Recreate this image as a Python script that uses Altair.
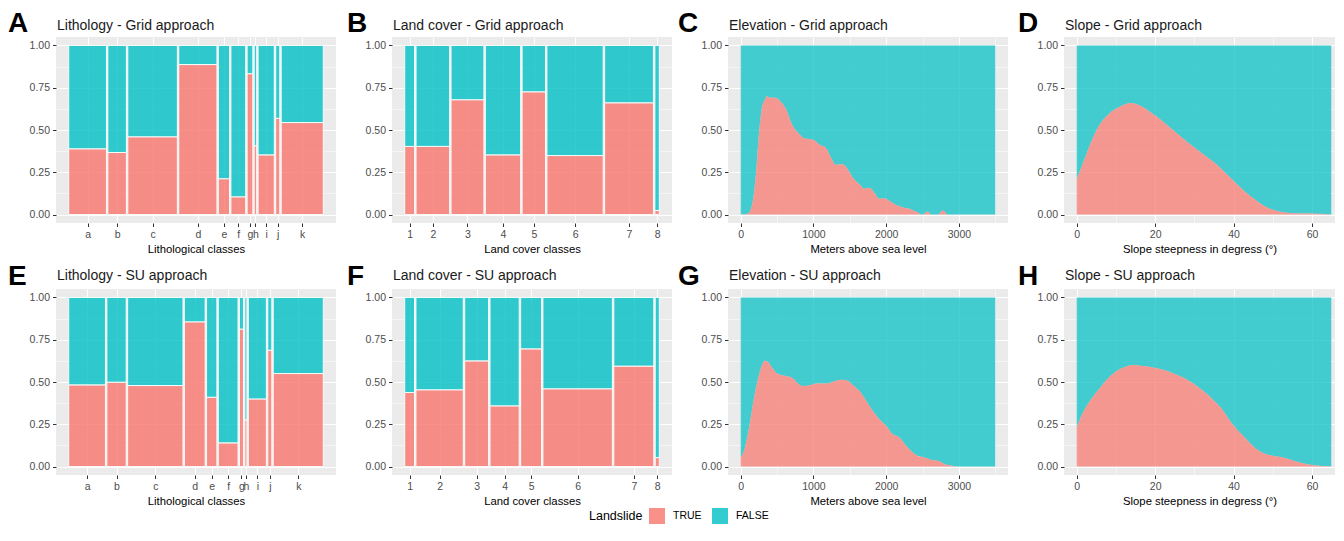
import altair as alt
import numpy as np
import pandas as pd

FONT = "Liberation Sans"
PINK = "#F8766D"
TEAL = "#00BFC4"

# ---------------- data ----------------
litho_classes = ["a", "b", "c", "d", "e", "f", "g", "h", "i", "j", "k"]
litho_grid_share = [37.3, 18.3, 49.0, 37.7, 11.0, 14.6, 5.6, 2.4, 16.0, 4.0, 41.6]
litho_grid_true = [0.389, 0.367, 0.460, 0.887, 0.212, 0.105, 0.833, 0.407, 0.353, 0.569, 0.544]
litho_su_share = [36.7, 19.3, 55.3, 20.7, 10.3, 19.7, 4.0, 2.0, 18.0, 4.0, 50.0]
litho_su_true = [0.483, 0.499, 0.479, 0.856, 0.410, 0.140, 0.813, 0.276, 0.400, 0.688, 0.550]

lc_classes = ["1", "2", "3", "4", "5", "6", "7", "8"]
lc_grid_share = [9.7, 33.0, 32.3, 34.7, 23.0, 55.3, 48.0, 4.3]
lc_grid_true = [0.403, 0.403, 0.679, 0.353, 0.726, 0.349, 0.661, 0.024]
lc_su_share = [9.7, 47.0, 23.7, 29.0, 20.7, 69.0, 39.7, 4.0]
lc_su_true = [0.438, 0.454, 0.625, 0.359, 0.696, 0.460, 0.594, 0.053]

elev_grid_x = [0, 92, 138, 170, 207, 253, 299, 335, 354, 413, 482, 528, 620, 712, 804, 873, 942,
               1011, 1079, 1171, 1240, 1309, 1401, 1470, 1539, 1631, 1700, 1768, 1837, 1906, 1975,
               2044, 2136, 2228, 2320, 2412, 2503, 2572, 2618, 2710, 2779, 2848, 3500]
elev_grid_p = [0, 0.004, 0.03, 0.09, 0.23, 0.49, 0.646, 0.68, 0.70, 0.69, 0.69, 0.676, 0.626,
               0.527, 0.477, 0.451, 0.447, 0.439, 0.414, 0.394, 0.338, 0.294, 0.298, 0.268, 0.219,
               0.179, 0.153, 0.159, 0.129, 0.093, 0.097, 0.080, 0.056, 0.042, 0.034, 0.016, 0,
               0.018, 0, 0, 0.024, 0, 0]

elev_su_x = [0, 46, 115, 184, 253, 299, 335, 367, 413, 482, 551, 620, 712, 781, 850, 942, 1034,
             1126, 1217, 1309, 1401, 1470, 1539, 1631, 1723, 1815, 1906, 1998, 2090, 2182, 2274,
             2366, 2435, 2503, 2572, 2641, 2710, 2802, 2894, 2986, 3500]
elev_su_p = [0.053, 0.093, 0.231, 0.408, 0.546, 0.606, 0.625, 0.621, 0.596, 0.556, 0.542, 0.536,
             0.523, 0.493, 0.477, 0.479, 0.491, 0.491, 0.493, 0.507, 0.513, 0.507, 0.483, 0.448,
             0.389, 0.329, 0.280, 0.241, 0.191, 0.172, 0.122, 0.083, 0.063, 0.057, 0.047, 0.037,
             0.034, 0.014, 0.006, 0.0, 0.0]

slope_grid_x = [0, 1.0, 2.3, 4.0, 5.7, 7.4, 9.1, 10.9, 12.6, 13.8, 15.1, 16.8, 18.5, 21.1, 23.7,
                26.2, 28.8, 31.4, 33.9, 36.5, 39.1, 41.6, 44.2, 46.8, 49.3, 51.9, 55.3, 59.6,
                62.1, 64.9]
slope_grid_p = [0.209, 0.268, 0.348, 0.447, 0.527, 0.577, 0.612, 0.636, 0.654, 0.660, 0.654,
                0.636, 0.610, 0.567, 0.517, 0.467, 0.417, 0.372, 0.328, 0.278, 0.219, 0.163,
                0.109, 0.066, 0.034, 0.016, 0.008, 0.006, 0.004, 0.0]

slope_su_x = [0, 1.0, 2.3, 4.0, 5.7, 7.4, 9.1, 10.9, 12.6, 14.7, 16.8, 19.4, 22.0, 24.5, 27.1,
              29.7, 32.2, 34.8, 37.4, 39.1, 40.8, 42.5, 44.2, 45.9, 47.6, 50.2, 52.7, 55.3,
              57.9, 60.4, 64.9]
slope_su_p = [0.231, 0.290, 0.349, 0.408, 0.458, 0.507, 0.546, 0.576, 0.592, 0.600, 0.594,
              0.586, 0.572, 0.552, 0.527, 0.491, 0.448, 0.394, 0.329, 0.270, 0.221, 0.181,
              0.138, 0.103, 0.079, 0.063, 0.053, 0.034, 0.018, 0.008, 0.002]

y_ticks = [0, 0.125, 0.25, 0.375, 0.5, 0.625, 0.75, 0.875, 1.0]
elev_ticks = [0, 500, 1000, 1500, 2000, 2500, 3000, 3500]
slope_ticks = [0, 10, 20, 30, 40, 50, 60]

# ---------------- styling ----------------
W, H = 280, 186
W_LAST = 271   # right-most column is cut at the page edge
color_enc = alt.Color(
    "Landslide:N",
    scale=alt.Scale(domain=["TRUE", "FALSE"], range=[PINK, TEAL]),
    legend=alt.Legend(title="Landslide"),
)
yscale = alt.Scale(domain=[-0.05, 1.05], nice=False, zero=False)
major_y = "(datum.value * 4) % 1 == 0"
yaxis = alt.Axis(
    values=y_ticks,
    title=None,
    labelExpr=f"{major_y} ? format(datum.value, '.2f') : ''",
    tickColor={"condition": {"test": major_y, "value": "#333333"}, "value": "transparent"},
    gridWidth={"condition": {"test": major_y, "value": 1.1}, "value": 0.5},
)


def decorations(letter, lx, ly, title, ty):
    let = alt.Chart(pd.DataFrame({"t": [letter]})).mark_text(
        align="left", baseline="alphabetic", fontSize=28, fontWeight="bold",
        font=FONT, color="black"
    ).encode(text="t:N", x=alt.value(lx), y=alt.value(ly))
    tit = alt.Chart(pd.DataFrame({"t": [title]})).mark_text(
        align="left", baseline="alphabetic", fontSize=14, font=FONT, color="#1A1A1A"
    ).encode(text="t:N", x=alt.value(1), y=alt.value(ty))
    return [let, tit]


def mosaic_panel(letter, lx, ly, title, ty, classes, share, ptrue, xtitle):
    share = np.array(share, dtype=float)
    w = share / share.sum()
    gap = 0.006
    x0 = np.concatenate([[0.0], np.cumsum(w + gap)[:-1]])
    x1 = x0 + w
    total = float(x1[-1])
    centers = [round(float(v), 6) for v in (x0 + x1) / 2]
    rows = []
    for c, a, b, p in zip(classes, x0, x1, ptrue):
        rows.append(dict(cls=c, x0=a, x1=b, y0=0.0, y1=p, Landslide="TRUE"))
        rows.append(dict(cls=c, x0=a, x1=b, y0=p, y1=1.0, Landslide="FALSE"))
    df = pd.DataFrame(rows)
    parts = [f"abs(datum.value - {c}) < 0.00001 ? '{lab}'" for c, lab in zip(centers, classes)]
    label_expr = " : ".join(parts) + " : ''"
    xscale = alt.Scale(domain=[-0.05 * total, 1.05 * total], nice=False, zero=False)
    bars = alt.Chart(df).mark_rect(
        fillOpacity=0.8, stroke="white", strokeWidth=0.9
    ).encode(
        x=alt.X("x0:Q", scale=xscale,
                axis=alt.Axis(values=centers, labelExpr=label_expr, title=xtitle,
                              labelOverlap=False, labelFlush=False, tickColor="#333333")),
        x2="x1:Q",
        y=alt.Y("y0:Q", scale=yscale, axis=yaxis),
        y2="y1:Q",
        color=color_enc,
    )
    return alt.layer(bars, *decorations(letter, lx, ly, title, ty)).properties(width=W, height=H)


def density_panel(letter, lx, ly, title, ty, xs, ps, xtitle, ticks, major_step, width=W):
    xs = list(xs)
    span = xs[-1] - xs[0]
    df_t = pd.DataFrame({"x": xs, "y": ps, "y2": [0.0] * len(xs), "Landslide": "TRUE"})
    df_f = pd.DataFrame({"x": xs, "y": [1.0] * len(xs), "y2": ps, "Landslide": "FALSE"})
    df = pd.concat([df_f, df_t], ignore_index=True)
    lo = xs[0] - 0.05 * span
    per_px = 1.1 * span / W
    hi = lo + per_px * width
    xscale = alt.Scale(domain=[lo, hi], nice=False, zero=False)
    major_x = f"datum.value % {major_step} == 0"
    xaxis = alt.Axis(
        values=ticks, title=xtitle, labelOverlap=False, labelFlush=False,
        labelExpr=f"{major_x} ? format(datum.value, 'd') : ''",
        tickColor={"condition": {"test": major_x, "value": "#333333"}, "value": "transparent"},
        gridWidth={"condition": {"test": major_x, "value": 1.1}, "value": 0.5},
    )
    areas = alt.Chart(df).mark_area(opacity=0.72, interpolate="monotone").encode(
        x=alt.X("x:Q", scale=xscale, axis=xaxis),
        y=alt.Y("y:Q", scale=yscale, axis=yaxis, stack=None),
        y2="y2:Q",
        color=color_enc,
    )
    return alt.layer(areas, *decorations(letter, lx, ly, title, ty)).properties(
        width=width, height=H)


A = mosaic_panel("A", -48, -5, "Lithology - Grid approach", -7, litho_classes,
                 litho_grid_share, litho_grid_true, "Lithological classes")
B = mosaic_panel("B", -45, -5, "Land cover - Grid approach", -7, lc_classes,
                 lc_grid_share, lc_grid_true, "Land cover classes")
C = density_panel("C", -50, -5, "Elevation - Grid approach", -7, elev_grid_x, elev_grid_p,
                  "Meters above sea level", elev_ticks, 1000)
D = density_panel("D", -46, -5, "Slope - Grid approach", -7, slope_grid_x, slope_grid_p,
                  "Slope steepness in degress (°)", slope_ticks, 20, width=W_LAST)
E = mosaic_panel("E", -48, -4, "Lithology - SU approach", -9, litho_classes,
                 litho_su_share, litho_su_true, "Lithological classes")
F = mosaic_panel("F", -45, -4, "Land cover - SU approach", -9, lc_classes,
                 lc_su_share, lc_su_true, "Land cover classes")
G = density_panel("G", -50, -4, "Elevation - SU approach", -9, elev_su_x, elev_su_p,
                  "Meters above sea level", elev_ticks, 1000)
Hh = density_panel("H", -46, -4, "Slope - SU approach", -9, slope_su_x, slope_su_p,
                   "Slope steepness in degress (°)", slope_ticks, 20, width=W_LAST)

chart = alt.concat(
    A, B, C, D, E, F, G, Hh, columns=4,
    spacing={"row": 66, "column": 56}, bounds="flush"
).resolve_scale(
    x="independent", y="independent", color="shared"
).properties(
    padding={"left": 0, "top": 2, "right": 0, "bottom": 0}
).configure(
    font=FONT
).configure_view(
    fill="#EBEBEB", strokeWidth=0
).configure_axis(
    domain=False,
    labelColor="#4D4D4D",
    labelFontSize=10.5,
    labelPadding=3,
    tickSize=3.5,
    tickWidth=1,
    gridColor="white",
    titleFontSize=11.3,
    titleFontWeight="normal",
    titleColor="black",
    titlePadding=3,
).configure_legend(
    orient="none",
    legendX=533,
    legendY=471,
    direction="horizontal",
    titleOrient="left",
    symbolType="square",
    symbolSize=256,
    symbolStrokeWidth=0,
    symbolOpacity=0.8,
    labelFontSize=10.5,
    labelColor="black",
    labelOffset=8,
    columnPadding=10,
    titleFontSize=12.5,
    titleFontWeight="normal",
    titleColor="black",
    titlePadding=6,
)

chart.save("out.html", embed_options={"renderer": "svg", "actions": False})
